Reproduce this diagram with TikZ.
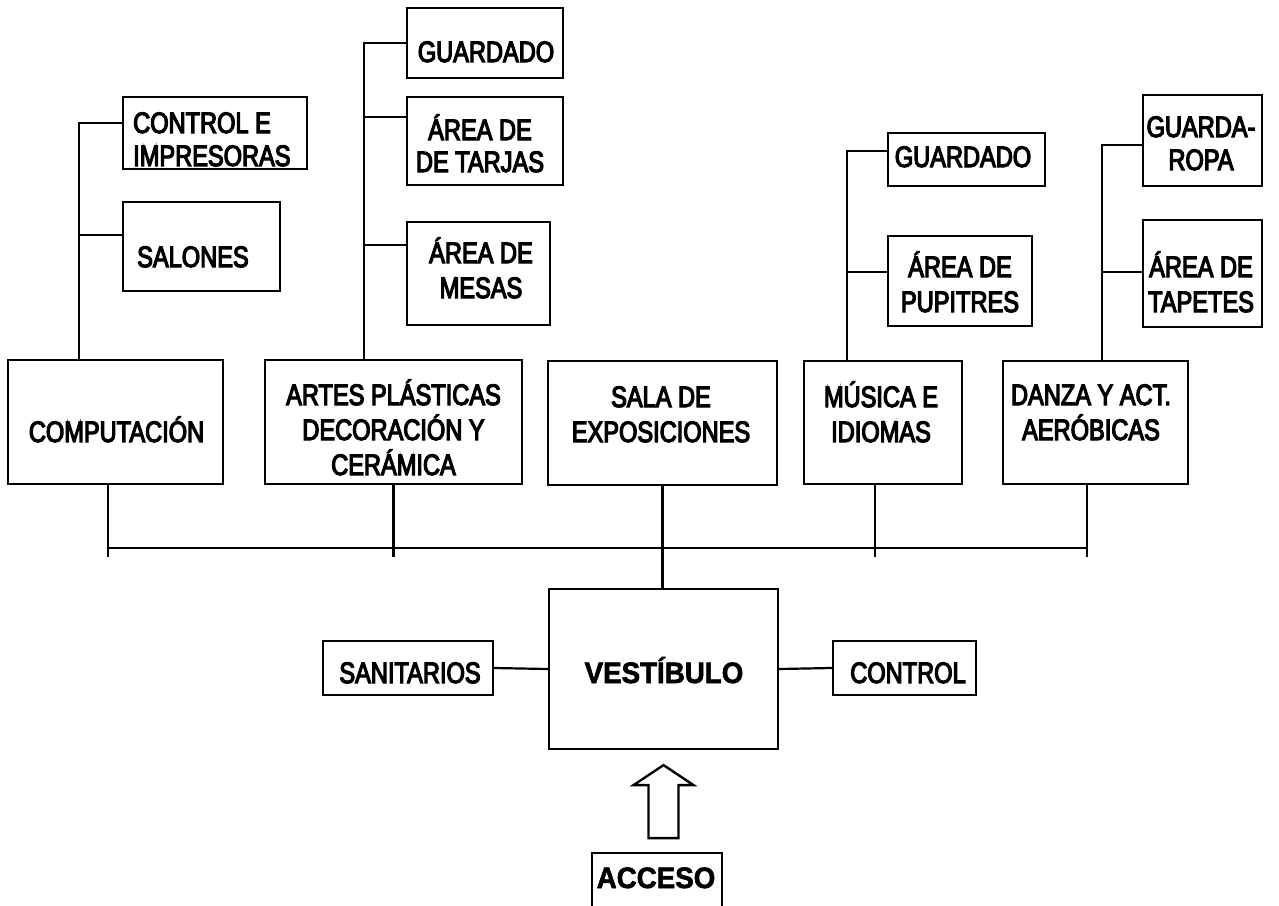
\documentclass[tikz,border=0pt]{standalone}
\usepackage{fontspec}
\setmainfont{Liberation Sans}[FakeStretch=0.8,FakeBold=4]
\newfontfamily\heavyfam{Liberation Sans}[FakeStretch=0.94,FakeBold=2]
\begin{document}
\begin{tikzpicture}[x=1pt,y=-1pt,
  bx/.style={draw, line width=2.2pt, inner sep=0pt, rectangle},
  ln/.style={line width=2.2pt},
  txt/.style={font=\fontsize{29.5}{35}\selectfont, inner sep=0pt, anchor=base},
  bld/.style={font=\heavyfam\bfseries\fontsize{29.5}{35}\selectfont, inner sep=0pt, anchor=base}]
\useasboundingbox[fill=white] (0,0) rectangle (1279,905);

% boxes
\node[bx, minimum width=184, minimum height=72]  (ctrlimp)    at (215,133) {};
\node[bx, minimum width=157, minimum height=89]  (salones)    at (201.5,246.5) {};
\node[bx, minimum width=156, minimum height=70]  (artguard)   at (485,43) {};
\node[bx, minimum width=156, minimum height=88]  (tarjas)     at (485,141) {};
\node[bx, minimum width=143, minimum height=103] (mesas)      at (478.5,273.5) {};
\node[bx, minimum width=157, minimum height=53]  (musguard)   at (966.5,159.5) {};
\node[bx, minimum width=144, minimum height=90]  (pupitres)   at (960,281) {};
\node[bx, minimum width=119, minimum height=91]  (guardaropa) at (1202.5,140.5) {};
\node[bx, minimum width=119, minimum height=107] (tapetes)    at (1202.5,273.5) {};
\node[bx, minimum width=215, minimum height=124] (comp)       at (115.5,422) {};
\node[bx, minimum width=257, minimum height=124] (artes)      at (393.5,422) {};
\node[bx, minimum width=229, minimum height=124] (sala)       at (662.5,423) {};
\node[bx, minimum width=158, minimum height=123] (musica)     at (883,422.5) {};
\node[bx, minimum width=185, minimum height=123] (danza)      at (1095.5,422.5) {};
\node[bx, minimum width=229, minimum height=160] (vest)       at (663.5,669) {};
\node[bx, minimum width=170, minimum height=54]  (sanit)      at (408,668) {};
\node[bx, minimum width=143, minimum height=54]  (control)    at (904.5,668) {};
\node[bx, minimum width=130, minimum height=55]  (acceso)     at (657,880.5) {};

% texts (base = baseline of the last line)
\node[txt, anchor=base west, align=left] (ctrlimpT) at (133,166) {CONTROL E\\[-2pt]IMPRESORAS};
\node[txt, anchor=base west] (salonesT) at (137,267) {SALONES};
\node[txt] (artguardT) at (486,62) {GUARDADO};
\node[txt, align=center] (tarjasT) at (480,172) {ÁREA DE\\[-3pt]DE TARJAS};
\node[txt, align=center] (mesasT) at (481,298) {ÁREA DE\\MESAS};
\node[txt] (musguardT) at (963,167) {GUARDADO};
\node[txt, align=center] (pupitresT) at (960,312) {ÁREA DE\\PUPITRES};
\node[txt, align=center] (guardaropaT) at (1201,170) {GUARDA-\\[-2pt]ROPA};
\node[txt, align=center] (tapetesT) at (1201,312) {ÁREA DE\\TAPETES};
\node[txt] (compT) at (116.5,442) {COMPUTACIÓN};
\node[txt, align=center] (artesT) at (393.5,475) {ARTES PLÁSTICAS\\DECORACIÓN Y\\CERÁMICA};
\node[txt, align=center] (salaT) at (661,442) {SALA DE\\EXPOSICIONES};
\node[txt, align=center] (musicaT) at (881,442) {MÚSICA E\\IDIOMAS};
\node[txt, align=center] (danzaT) at (1091,440) {DANZA Y ACT.\\AERÓBICAS};
\node[bld] (vestT) at (664,683) {VESTÍBULO};
\node[txt] (sanitT) at (410,683) {SANITARIOS};
\node[txt] (controlT) at (908,683) {CONTROL};
\node[bld] (accesoT) at (656,888) {ACCESO};

% branch connectors
\draw[ln] ([yshift=10pt]ctrlimp.west) -| ([xshift=72pt]comp.north west);
\draw[ln] ([yshift=11.5pt]salones.west) -- ++(-43,0);
\draw[ln] (artguard.west) -| ([xshift=100pt]artes.north west);
\draw[ln] ([yshift=24pt]tarjas.west) -- ++(-42,0);
\draw[ln] ([yshift=28.5pt]mesas.west) -- ++(-42,0);
\draw[ln] ([yshift=8.5pt]musguard.west) -| ([xshift=44pt]musica.north west);
\draw[ln] ([yshift=9pt]pupitres.west) -- ++(-40,0);
\draw[ln] ([yshift=-4.5pt]guardaropa.west) -| ([xshift=100pt]danza.north west);
\draw[ln] ([yshift=1.5pt]tapetes.west) -- ++(-40,0);

% bus
\draw[ln] ([xshift=101pt]comp.south west) -- ++(0,72);
\draw[ln] (artes.south) -- ++(0,72);
\draw[ln] ([xshift=72pt]musica.south west) -- ++(0,72);
\draw[ln] ([xshift=85pt]danza.south west) -- ++(0,72);
\draw[ln] ([xshift=101pt,yshift=-63pt]comp.south west) -- ([xshift=85pt,yshift=-63pt]danza.south west);
\draw[ln] (sala.south) -- (sala.south |- vest.north);

% side rooms
\draw[ln] (sanit.east) -- (vest.west);
\draw[ln] (control.west) -- (vest.east);

% access arrow
\coordinate (tip) at ([yshift=-15pt]vest.south);
\draw[line width=2.4pt, line join=miter] (tip) -- ++(30,20) -- ++(-15,0) -- ++(0,53) -- ++(-30,0) -- ++(0,-53) -- ++(-15,0) -- cycle;
\end{tikzpicture}
\end{document}
